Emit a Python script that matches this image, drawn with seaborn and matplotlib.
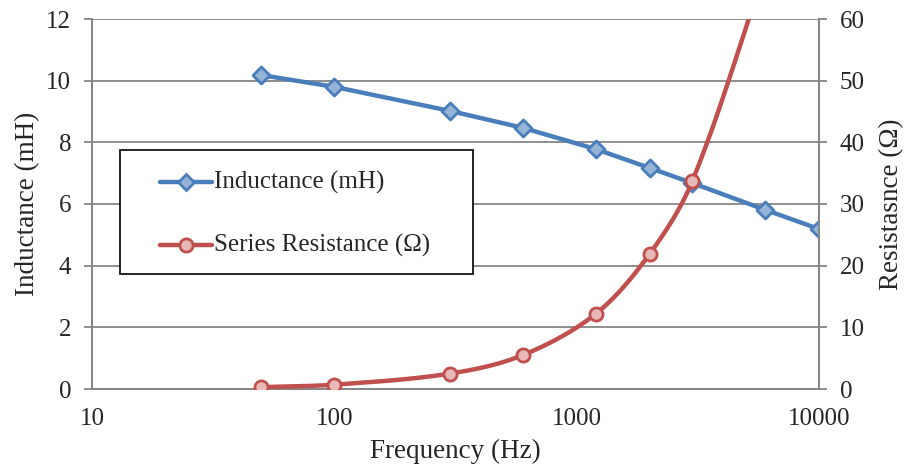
import numpy as np
import pandas as pd
import matplotlib
matplotlib.use("Agg")
import matplotlib.pyplot as plt
import seaborn as sns
from matplotlib.lines import Line2D
from matplotlib.patches import Rectangle

freq = [50, 100, 300, 600, 1200, 2000, 3000, 6000, 10000]
inductance = [10.18, 9.80, 9.02, 8.47, 7.78, 7.17, 6.68, 5.81, 5.19]
res_freq = [50, 100, 300, 600, 1200, 2000, 3000, 6000]
resistance = [0.3, 0.7, 2.5, 5.5, 12.2, 21.9, 33.7, 68.0]
labels = ["Inductance (mH)", "Series Resistance (Ω)"]

BLUE = "#4a7ebb"
BLUE_FACE = "#95b3d7"
RED = "#c0504d"
RED_FACE = "#e6b9b8"
GRID = "#868686"


def smooth(x, y, xscale=242.4, yscale=6.17, n=40):
    # bezier through the points with tangents sized per segment (screen-like space),
    # roughly how Excel draws a smoothed line
    p = np.column_stack([np.log10(x) * xscale, np.asarray(y, float) * yscale])
    m = len(p)
    tang = np.zeros_like(p)
    for i in range(m):
        a = p[max(i - 1, 0)]
        b = p[min(i + 1, m - 1)]
        d = b - a
        tang[i] = d / np.linalg.norm(d)
    t = np.linspace(0, 1, n)[:, None]
    pts = []
    for i in range(m - 1):
        seg = np.linalg.norm(p[i + 1] - p[i])
        c1 = p[i] + tang[i] * seg / 3
        c2 = p[i + 1] - tang[i + 1] * seg / 3
        pts.append((1 - t) ** 3 * p[i] + 3 * (1 - t) ** 2 * t * c1
                   + 3 * (1 - t) * t ** 2 * c2 + t ** 3 * p[i + 1])
    pts = np.vstack(pts)
    return 10 ** (pts[:, 0] / xscale), pts[:, 1] / yscale


sns.set_style("white")
plt.rcParams["font.family"] = ["Liberation Serif", "DejaVu Serif"]
plt.rcParams["font.size"] = 18

W, H = 905, 475
fig = plt.figure(figsize=(W / 100, H / 100), dpi=100)
ax = fig.add_axes([92 / W, 86 / H, 727 / W, 370 / H])
ax2 = ax.twinx()

ind_df = pd.DataFrame({"freq": freq, "L": inductance})
sns.lineplot(data=ind_df, x="freq", y="L", ax=ax, color=BLUE, lw=3.2, zorder=3)
sns.scatterplot(data=ind_df, x="freq", y="L", ax=ax, marker="D", s=75,
                color=BLUE_FACE, edgecolor=BLUE, linewidth=2, zorder=4)

sx, sy = smooth(res_freq, resistance)
res_curve = pd.DataFrame({"freq": sx, "R": sy})
res_df = pd.DataFrame({"freq": res_freq, "R": resistance})
sns.lineplot(data=res_curve, x="freq", y="R", ax=ax2, color=RED, lw=3.2,
             sort=False, zorder=3)
sns.scatterplot(data=res_df, x="freq", y="R", ax=ax2, marker="o", s=90,
                color=RED_FACE, edgecolor=RED, linewidth=2, zorder=4)

ax.set_xscale("log")
ax.set_xlim(10, 10000)
ax.set_ylim(0, 12)
ax2.set_ylim(0, 60)
ax.set_yticks(range(0, 13, 2))
ax2.set_yticks(range(0, 61, 10))
ax.set_xticks([10, 100, 1000, 10000])
ax.set_xticklabels(["10", "100", "1000", "10000"])
ax.xaxis.set_minor_locator(matplotlib.ticker.NullLocator())

ax.grid(axis="y", color=GRID, lw=1.3)
ax.set_axisbelow(True)
for a in (ax, ax2):
    a.spines["top"].set_visible(False)
    for s in ("left", "right", "bottom"):
        a.spines[s].set_color(GRID)
        a.spines[s].set_linewidth(1.3)
    a.tick_params(axis="both", which="major", direction="out", length=6,
                  width=1.3, color=GRID, labelsize=18, pad=9)
ax.tick_params(axis="x", pad=8)
ax.tick_params(axis="y", left=True)
ax2.tick_params(axis="y", right=True)

ax.set_xlabel("Frequency (Hz)", fontsize=19.5, labelpad=6)
ax.set_ylabel("Inductance (mH)", fontsize=19.5, labelpad=4)
ax2.set_ylabel("Resistasnce (Ω)", fontsize=19.5, labelpad=10)


# legend box drawn by hand so it sits where the reference has it
def fx(px):
    return px / W


def fy(py):
    return 1 - py / H


box = Rectangle((fx(120), fy(274)), fx(473) - fx(120), fy(150) - fy(274),
                transform=fig.transFigure, facecolor="white", edgecolor="black",
                lw=1.2, zorder=10)
fig.patches.append(box)
styles = [
    dict(color=BLUE, marker="D", markersize=8.5, markerfacecolor=BLUE_FACE),
    dict(color=RED, marker="o", markersize=9.5, markerfacecolor=RED_FACE),
]
for row_y, st, lab in zip([182, 245], styles, labels):
    fig.lines.append(Line2D([fx(160), fx(212)], [fy(row_y)] * 2,
                            transform=fig.transFigure, lw=3.2, zorder=11,
                            color=st["color"]))
    fig.lines.append(Line2D([fx(186)], [fy(row_y)], transform=fig.transFigure,
                            lw=0, marker=st["marker"], markersize=st["markersize"],
                            markerfacecolor=st["markerfacecolor"],
                            markeredgecolor=st["color"], markeredgewidth=2, zorder=12))
    fig.text(fx(214), fy(row_y), lab, fontsize=18, va="center", ha="left", zorder=12)

fig.savefig("out.png", dpi=100)
